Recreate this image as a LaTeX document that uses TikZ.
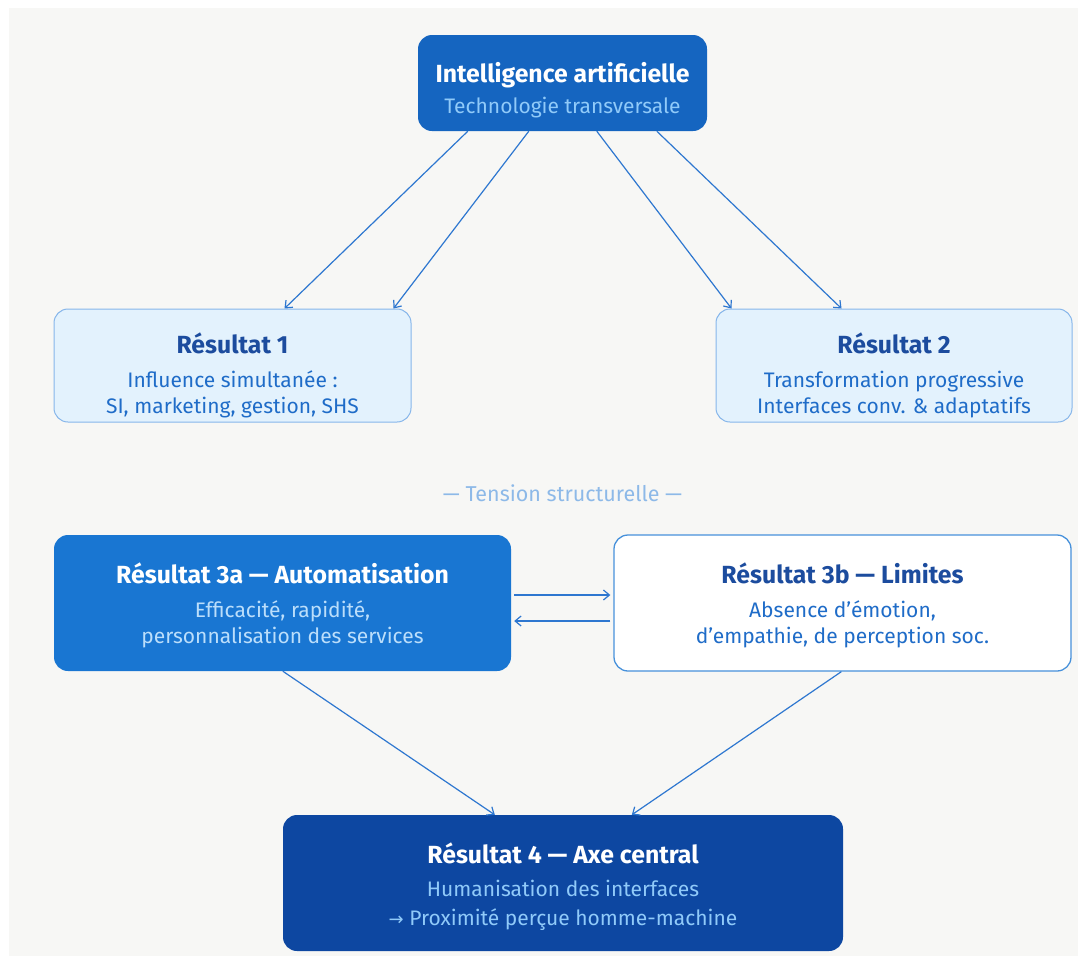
\documentclass[tikz,border=0pt]{standalone}
\usepackage{fontspec}
\setmainfont{Fira Sans}
\usetikzlibrary{arrows.meta,calc}
\definecolor{bg}{HTML}{F7F7F5}
\definecolor{aiblue}{HTML}{1565C0}
\definecolor{midblue}{HTML}{1976D2}
\definecolor{deepblue}{HTML}{0D47A1}
\definecolor{paleblue}{HTML}{E3F2FD}
\definecolor{paleborder}{HTML}{86B6EA}
\definecolor{lighttxt}{HTML}{90CAF9}
\definecolor{verylighttxt}{HTML}{BBDEFB}
\definecolor{titledark}{HTML}{1C4C9E}
\definecolor{bodyblue}{HTML}{1F6CC8}
\definecolor{arrowc}{HTML}{2E77D0}
\definecolor{tensionc}{HTML}{8DB9E8}
\tikzset{
  box/.style={rounded corners=14pt, minimum width=#1, inner sep=0pt},
  ttl/.style={anchor=base, font=\fontsize{24.8}{28}\selectfont\bfseries},
  sub/.style={anchor=base, font=\fontsize{21}{24}\selectfont},
  arr/.style={draw=arrowc, line width=1.2pt, -{Straight Barb[length=6pt,width=10pt]}}
}
\begin{document}
\begin{tikzpicture}[x=1pt,y=-1pt]
\useasboundingbox (0,0) rectangle (1078,956);
\fill[bg] (9,8) rectangle (1078,956);

% boxes
\node[box=289pt, minimum height=96pt, fill=aiblue] (ai) at (562.5,83) {};
\node[box=357pt, minimum height=113pt, fill=paleblue, draw=paleborder, line width=1pt] (r1) at (232.5,365.5) {};
\node[box=356pt, minimum height=113pt, fill=paleblue, draw=paleborder, line width=1pt] (r2) at (894,365.5) {};
\node[box=457pt, minimum height=136pt, fill=midblue] (r3a) at (282.5,603) {};
\node[box=457pt, minimum height=136pt, fill=white, draw=midblue!80, line width=1.3pt] (r3b) at (842.5,603) {};
\node[box=560pt, minimum height=136pt, fill=deepblue] (r4) at (563,883) {};

% texts
\node[ttl, text=white] (aiT) at (562.5,82) {Intelligence artificielle};
\node[sub, text=lighttxt] (aiS) at (562.5,113) {Technologie transversale};

\node[ttl, text=titledark] (r1T) at (232.5,353) {Résultat 1};
\node[sub, text=bodyblue] (r1A) at (232.5,387) {Influence simultanée :};
\node[sub, text=bodyblue] (r1B) at (232.5,413) {SI, marketing, gestion, SHS};

\node[ttl, text=titledark] (r2T) at (894,353) {Résultat 2};
\node[sub, text=bodyblue] (r2A) at (894,387) {Transformation progressive};
\node[sub, text=bodyblue] (r2B) at (894,413) {Interfaces conv. \& adaptatifs};

\node[anchor=base, text=tensionc, font=\fontsize{21.5}{24}\selectfont] (tension) at (562.5,501) {— Tension structurelle —};

\node[ttl, text=white] (r3aT) at (282.5,583) {Résultat 3a — Automatisation};
\node[sub, text=verylighttxt] (r3aA) at (282.5,617) {Efficacité, rapidité,};
\node[sub, text=verylighttxt] (r3aB) at (282.5,643) {personnalisation des services};

\node[ttl, text=titledark] (r3bT) at (842.5,583) {Résultat 3b — Limites};
\node[sub, text=bodyblue] (r3bA) at (842.5,617) {Absence d’émotion,};
\node[sub, text=bodyblue] (r3bB) at (842.5,643) {d’empathie, de perception soc.};

\node[ttl, text=white] (r4T) at (563,863) {Résultat 4 — Axe central};
\node[sub, text=lighttxt] (r4A) at (563,896) {Humanisation des interfaces};
\node[sub, text=lighttxt] (r4B) at (563,925) {{\fontspec{DejaVu Sans}\fontsize{18}{21}\selectfont →} Proximité perçue homme-machine};

% connectors
\draw[arr] ($(ai.south west)+(50,0)$) -- ($(r1.north west)+(231,0)$);
\draw[arr] ($(ai.south west)+(111,0)$) -- ($(r1.north west)+(340,0)$);
\draw[arr] ($(ai.south west)+(179,0)$) -- ($(r2.north west)+(16,0)$);
\draw[arr] ($(ai.south west)+(239,0)$) -- ($(r2.north west)+(126,0)$);

\draw[arr] ($(r3a.east)+(3,-8)$) -- ($(r3b.west)+(-3,-8)$);
\draw[arr] ($(r3b.west)+(-3,18)$) -- ($(r3a.east)+(3,18)$);

\draw[arr] ($(r3a.south west)+(229,0)$) -- ($(r4.north west)+(212,0)$);
\draw[arr] ($(r3b.south west)+(228,0)$) -- ($(r4.north west)+(349,0)$);
\end{tikzpicture}
\end{document}
